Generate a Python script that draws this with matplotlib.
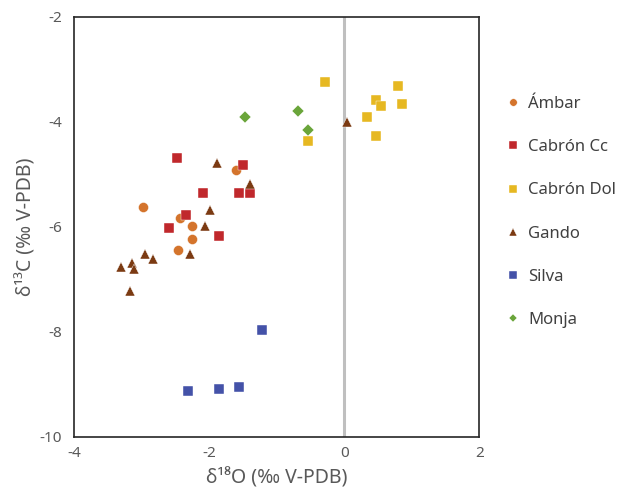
import matplotlib
matplotlib.use("Agg")
import matplotlib.pyplot as plt

plt.rcParams['font.family'] = ['Noto Sans', 'DejaVu Sans']
plt.rcParams['axes.unicode_minus'] = False

ambar_x = [-2.98, -2.43, -2.26, -2.26, -2.46, -1.61]
ambar_y = [-5.63, -5.84, -5.99, -6.23, -6.44, -4.92]

cc_x = [-2.48, -1.50, -2.10, -1.56, -1.39, -2.35, -2.59, -1.86]
cc_y = [-4.68, -4.82, -5.35, -5.35, -5.35, -5.77, -6.02, -6.17]

dol_x = [-0.29, 0.80, 0.47, 0.55, 0.85, 0.34, -0.54, 0.47]
dol_y = [-3.23, -3.31, -3.59, -3.70, -3.66, -3.90, -4.36, -4.26]

gando_x = [-1.88, -1.39, -1.99, -2.07, -2.95, -2.84, -2.29, -3.31, -3.14, -3.12, -3.17, 0.04]
gando_y = [-4.79, -5.18, -5.68, -5.99, -6.52, -6.62, -6.52, -6.76, -6.69, -6.81, -7.23, -4.01]

silva_x = [-1.22, -2.32, -1.86, -1.56]
silva_y = [-7.96, -9.12, -9.09, -9.05]

monja_x = [-0.68, -0.54, -1.47]
monja_y = [-3.80, -4.15, -3.90]

x_ticks = [-4, -2, 0, 2]
y_ticks = [-10, -8, -6, -4, -2]

series = [
    ("Ámbar", ambar_x, ambar_y, 'o', '#D4742C', 7.2),
    ("Cabrón Cc", cc_x, cc_y, 's', '#C0282C', 6.8),
    ("Cabrón Dol", dol_x, dol_y, 's', '#E6B822', 6.8),
    ("Gando", gando_x, gando_y, '^', '#7B3A12', 7.6),
    ("Silva", silva_x, silva_y, 's', '#4452A8', 6.8),
    ("Monja", monja_x, monja_y, 'D', '#6AA53A', 6.0),
]

fig = plt.figure(figsize=(6.23, 4.94), dpi=100)
ax = fig.add_axes([74.3 / 623, (494 - 436.7) / 494, 405 / 623, (436.7 - 17) / 494])

ax.axvline(0, color='#BFBFBF', lw=2.2, zorder=1)

for name, xs, ys, m, c, ms in series:
    ax.plot(xs, ys, linestyle='none', marker=m, color=c, markersize=ms,
            markeredgecolor='white', markeredgewidth=0.3, label=name, zorder=3)

ax.set_xlim(-4, 2)
ax.set_ylim(-10, -2)
ax.set_xticks(x_ticks)
ax.set_yticks(y_ticks)
ax.tick_params(length=0, labelsize=11, labelcolor='#595959')
ax.tick_params(axis='y', pad=9)
ax.tick_params(axis='x', pad=7)
for s in ax.spines.values():
    s.set_color('#262626')
    s.set_linewidth(1.2)

ax.set_xlabel('δ¹⁸O (‰ V-PDB)', fontsize=14, color='#595959', labelpad=5)
ax.set_ylabel('δ¹³C (‰ V-PDB)', fontsize=14, color='#595959', labelpad=2)

fig.legend(loc='center left', bbox_to_anchor=(505 / 623, 1 - 212 / 494),
           frameon=False, fontsize=12, markerscale=0.75, handlelength=1.0,
           handletextpad=0.4, labelspacing=1.63, borderpad=0, borderaxespad=0,
           labelcolor='#404040')

fig.savefig('out.png', dpi=100)
